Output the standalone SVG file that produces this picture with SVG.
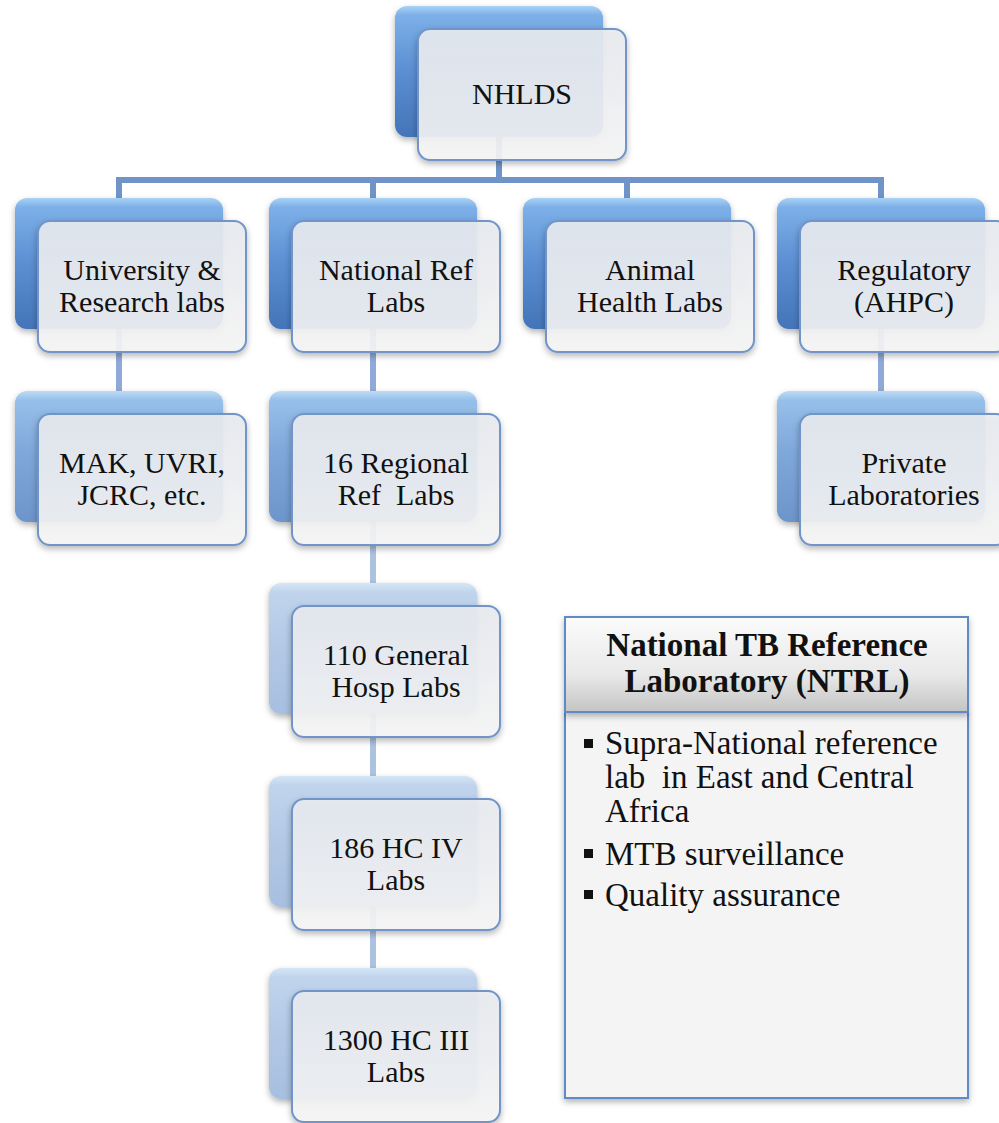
<svg xmlns="http://www.w3.org/2000/svg" width="999" height="1123" viewBox="0 0 999 1123">
<defs>
<linearGradient id="gb1" x1="0" y1="0" x2="0" y2="1">
<stop offset="0" stop-color="#a9d2f5"/><stop offset="0.07" stop-color="#7db0e8"/><stop offset="0.5" stop-color="#5b8ed2"/><stop offset="1" stop-color="#4474b8"/>
</linearGradient>
<linearGradient id="gb2" x1="0" y1="0" x2="0" y2="1">
<stop offset="0" stop-color="#bcdcf6"/><stop offset="0.07" stop-color="#97bfea"/><stop offset="0.5" stop-color="#7da6d9"/><stop offset="1" stop-color="#6c95cb"/>
</linearGradient>
<linearGradient id="gb3" x1="0" y1="0" x2="0" y2="1">
<stop offset="0" stop-color="#d6e6f6"/><stop offset="0.07" stop-color="#c0d4ec"/><stop offset="0.5" stop-color="#b2c8e5"/><stop offset="1" stop-color="#a7bfe0"/>
</linearGradient>
<linearGradient id="gf" x1="0" y1="0" x2="0" y2="1">
<stop offset="0" stop-color="#e8ebf0"/><stop offset="1" stop-color="#f6f6f6"/>
</linearGradient>
<linearGradient id="gh" x1="0" y1="0" x2="0" y2="1">
<stop offset="0" stop-color="#fbfbfb"/><stop offset="0.6" stop-color="#e9e9e9"/><stop offset="1" stop-color="#c4c4c4"/>
</linearGradient>
<filter id="sh" x="-10%" y="-10%" width="125%" height="130%">
<feDropShadow dx="0" dy="3" stdDeviation="3" flood-color="#000" flood-opacity="0.3"/>
</filter>
</defs>
<style>
.b1{fill:url(#gb1)}
.b2{fill:url(#gb2)}
.b3{fill:url(#gb3)}
.f{fill:url(#gf);fill-opacity:0.9;stroke:#7195c8;stroke-width:2}
.t{font-family:"Liberation Serif","Times New Roman",serif;font-size:30px;fill:#111;text-anchor:middle;white-space:pre}
.c1{stroke:#7094c7;stroke-width:6;fill:none}
.c2{stroke:#8faad6;stroke-width:6;fill:none}
.c3{stroke:#adc2e0;stroke-width:6;fill:none}
.hd{font-family:"Liberation Serif","Times New Roman",serif;font-size:33px;font-weight:bold;fill:#111;text-anchor:middle}
.bt{font-family:"Liberation Serif","Times New Roman",serif;font-size:33px;fill:#111;white-space:pre}
</style>
<g id="connectors">
<path class="c1" d="M499 137V180M119 180H881M119 177V198M373 177V198M627 177V198M881 177V198"/>
<path class="c2" d="M119 329V391M373 329V391M881 329V391"/>
<path class="c3" d="M373 522V968"/>
</g>
<g id="nhlds">
<rect class="b1" x="395" y="6" width="208" height="131" rx="12" filter="url(#sh)"/>
<rect class="f" x="418" y="29" width="208" height="131" rx="12" filter="url(#sh)"/>
<text class="t" x="522" y="104">NHLDS</text>
</g>
<g id="university">
<rect class="b1" x="15" y="198" width="208" height="131" rx="12" filter="url(#sh)"/>
<rect class="f" x="38" y="221" width="208" height="131" rx="12" filter="url(#sh)"/>
<text class="t" x="142" y="280">University &amp;</text>
<text class="t" x="142" y="312">Research labs</text>
</g>
<g id="national-ref">
<rect class="b1" x="269" y="198" width="208" height="131" rx="12" filter="url(#sh)"/>
<rect class="f" x="292" y="221" width="208" height="131" rx="12" filter="url(#sh)"/>
<text class="t" x="396" y="280">National Ref</text>
<text class="t" x="396" y="312">Labs</text>
</g>
<g id="animal">
<rect class="b1" x="523" y="198" width="208" height="131" rx="12" filter="url(#sh)"/>
<rect class="f" x="546" y="221" width="208" height="131" rx="12" filter="url(#sh)"/>
<text class="t" x="650" y="280">Animal</text>
<text class="t" x="650" y="312">Health Labs</text>
</g>
<g id="regulatory">
<rect class="b1" x="777" y="198" width="208" height="131" rx="12" filter="url(#sh)"/>
<rect class="f" x="800" y="221" width="208" height="131" rx="12" filter="url(#sh)"/>
<text class="t" x="904" y="280">Regulatory</text>
<text class="t" x="904" y="312">(AHPC)</text>
</g>
<g id="mak">
<rect class="b2" x="15" y="391" width="208" height="131" rx="12" filter="url(#sh)"/>
<rect class="f" x="38" y="414" width="208" height="131" rx="12" filter="url(#sh)"/>
<text class="t" x="142" y="473">MAK, UVRI,</text>
<text class="t" x="142" y="505">JCRC, etc.</text>
</g>
<g id="regional">
<rect class="b2" x="269" y="391" width="208" height="131" rx="12" filter="url(#sh)"/>
<rect class="f" x="292" y="414" width="208" height="131" rx="12" filter="url(#sh)"/>
<text class="t" x="396" y="473">16 Regional</text>
<text class="t" x="396" y="505" xml:space="preserve">Ref  Labs</text>
</g>
<g id="private">
<rect class="b2" x="777" y="391" width="208" height="131" rx="12" filter="url(#sh)"/>
<rect class="f" x="800" y="414" width="208" height="131" rx="12" filter="url(#sh)"/>
<text class="t" x="904" y="473">Private</text>
<text class="t" x="904" y="505">Laboratories</text>
</g>
<g id="general">
<rect class="b3" x="269" y="583" width="208" height="131" rx="12" filter="url(#sh)"/>
<rect class="f" x="292" y="606" width="208" height="131" rx="12" filter="url(#sh)"/>
<text class="t" x="396" y="665">110 General</text>
<text class="t" x="396" y="697">Hosp Labs</text>
</g>
<g id="hc4">
<rect class="b3" x="269" y="776" width="208" height="131" rx="12" filter="url(#sh)"/>
<rect class="f" x="292" y="799" width="208" height="131" rx="12" filter="url(#sh)"/>
<text class="t" x="396" y="858">186 HC IV</text>
<text class="t" x="396" y="890">Labs</text>
</g>
<g id="hc3">
<rect class="b3" x="269" y="968" width="208" height="131" rx="12" filter="url(#sh)"/>
<rect class="f" x="292" y="991" width="208" height="131" rx="12" filter="url(#sh)"/>
<text class="t" x="396" y="1050">1300 HC III</text>
<text class="t" x="396" y="1082">Labs</text>
</g>
<g id="ntrl">
<rect x="565" y="712" width="403" height="386" fill="#f4f4f4" stroke="#5f8ac6" stroke-width="2" filter="url(#sh)"/>
<rect x="565" y="617" width="403" height="95" fill="url(#gh)" stroke="#5f8ac6" stroke-width="2" filter="url(#sh)"/>
<text class="hd" x="767" y="656">National TB Reference</text>
<text class="hd" x="767" y="692">Laboratory (NTRL)</text>
<rect x="584" y="739" width="9" height="9" fill="#111"/>
<text class="bt" x="605" y="754">Supra-National reference</text>
<text class="bt" x="605" y="788" xml:space="preserve">lab  in East and Central</text>
<text class="bt" x="605" y="822">Africa</text>
<rect x="584" y="849" width="9" height="9" fill="#111"/>
<text class="bt" x="605" y="865">MTB surveillance</text>
<rect x="584" y="890" width="9" height="9" fill="#111"/>
<text class="bt" x="605" y="906">Quality assurance</text>
</g>
</svg>
